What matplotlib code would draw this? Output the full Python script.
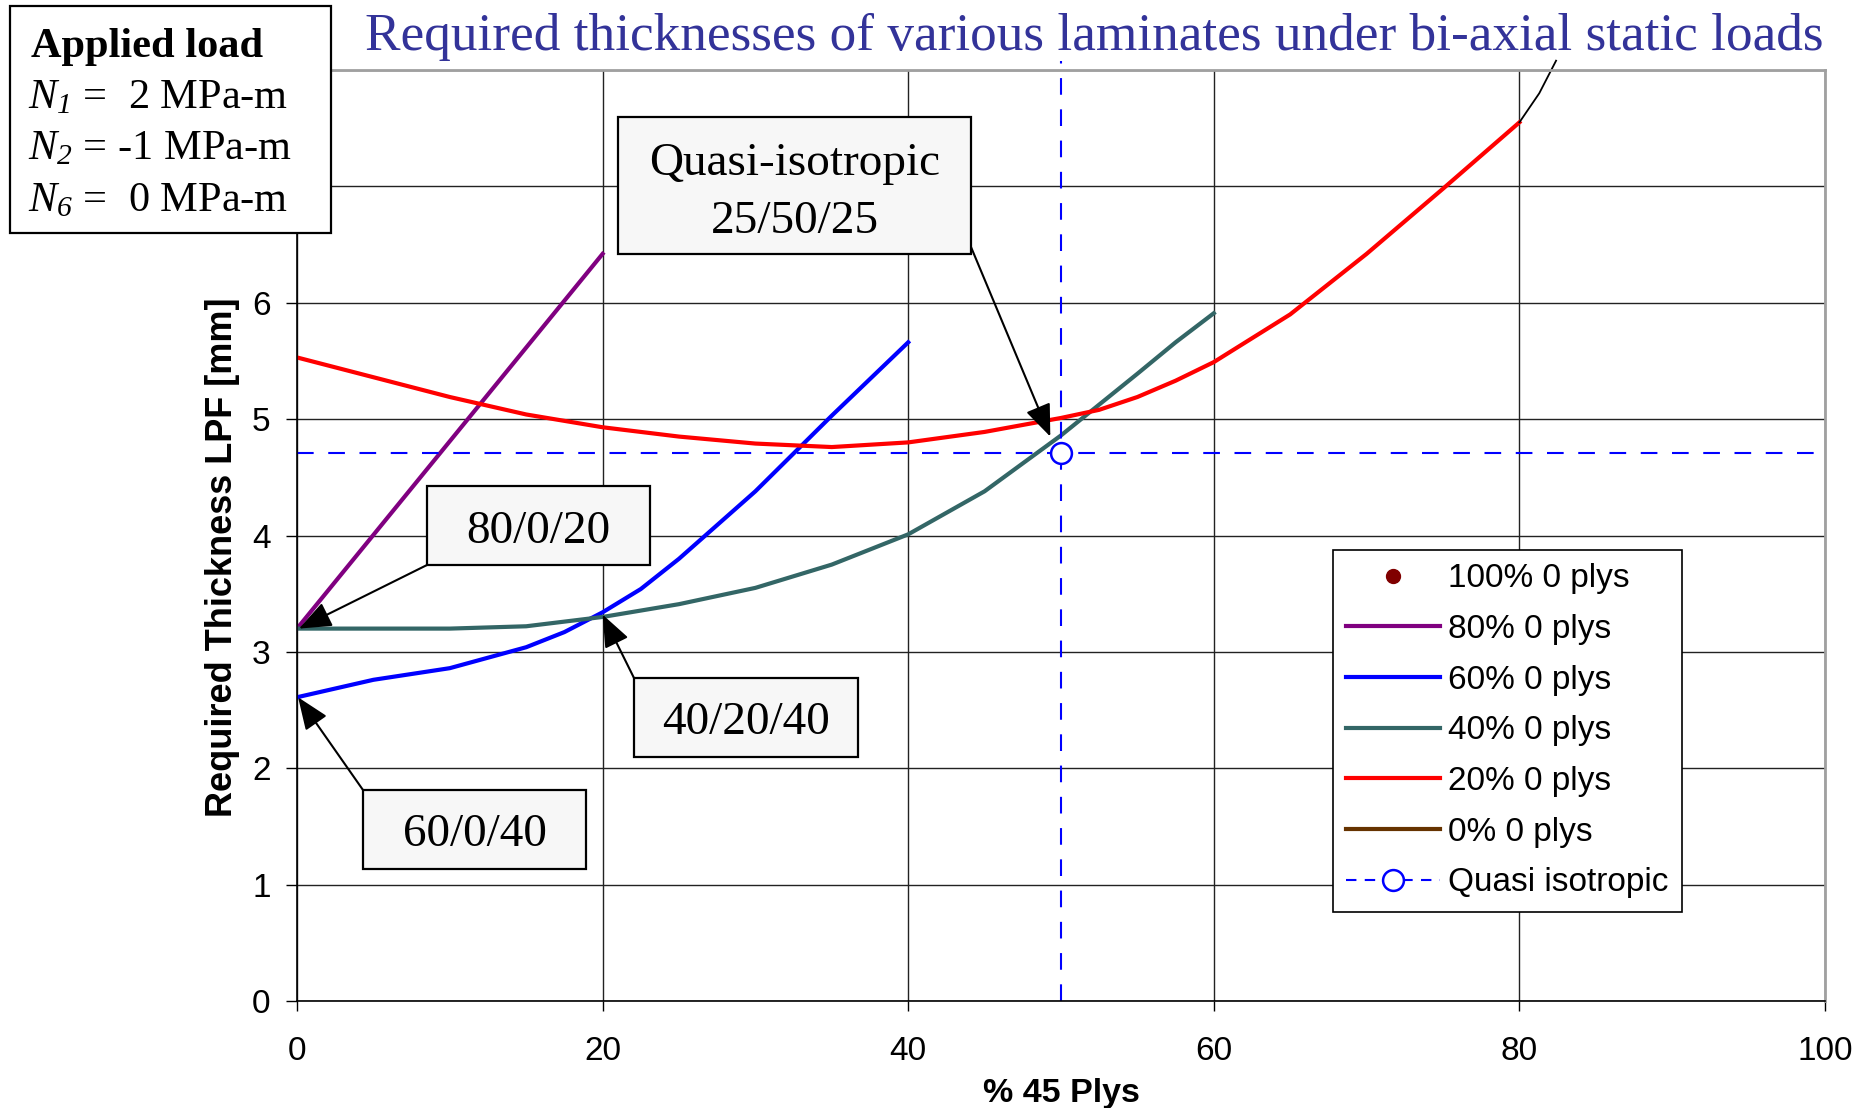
import matplotlib
matplotlib.use("Agg")
import matplotlib.pyplot as plt
from matplotlib.patches import Rectangle
from matplotlib.lines import Line2D

# data
x_80 = [0, 20]
t_80 = [3.20, 6.42]

x_60 = [0, 5, 10, 15, 17.5, 20, 22.5, 25, 30, 35, 40]
t_60 = [2.61, 2.76, 2.86, 3.04, 3.17, 3.34, 3.54, 3.80, 4.38, 5.03, 5.66]

x_40 = [0, 5, 10, 15, 20, 25, 30, 35, 40, 45, 50, 55, 57.5, 60]
t_40 = [3.20, 3.20, 3.20, 3.22, 3.30, 3.41, 3.55, 3.75, 4.01, 4.38, 4.86, 5.39, 5.66, 5.91]

x_20 = [0, 5, 10, 15, 20, 25, 30, 35, 40, 45, 50, 52.5, 55, 57.5, 60, 65, 70, 75, 80]
t_20 = [5.53, 5.36, 5.19, 5.04, 4.93, 4.85, 4.79, 4.76, 4.80, 4.89, 5.01, 5.08, 5.19, 5.33, 5.49, 5.90, 6.42, 6.98, 7.55]

x_tail = [80, 81.3, 82.4]
t_tail = [7.55, 7.80, 8.08]

quasi_x = 50
quasi_t = 4.71

series_labels = ["100% 0 plys", "80% 0 plys", "60% 0 plys", "40% 0 plys",
                 "20% 0 plys", "0% 0 plys", "Quasi isotropic"]

y_ticks = list(range(0, 9))
y_ticklabels = ['0', '1', '2', '3', '4', '5', '6', '', '']  # 7 and 8 sit under the load box

load_lines = [r"$N_1$ =  2 MPa-m",
              r"$N_2$ = -1 MPa-m",
              r"$N_6$ =  0 MPa-m"]

# callouts: text, arrow target (data), box (left, top, right, bottom px), arrow start px
callouts = [
    ("Quasi-isotropic\n25/50/25", (49.3, 4.85), (618, 117, 971, 254), (971, 247)),
    ("80/0/20", (0.13, 3.20), (427, 486, 650, 565), (427, 565)),
    ("40/20/40", (20.0, 3.32), (634, 678, 858, 757), (634, 678)),
    ("60/0/40", (0.07, 2.61), (363, 790, 586, 869), (363, 790)),
]

W, H = 1869, 1108

plt.rcParams['font.family'] = ['Liberation Sans', 'DejaVu Sans']
plt.rcParams['mathtext.fontset'] = 'custom'
plt.rcParams['mathtext.rm'] = 'Liberation Serif:italic'
plt.rcParams['mathtext.it'] = 'Liberation Serif:italic'

fig = plt.figure(figsize=(W / 100, H / 100), dpi=100)
ax = fig.add_axes([297 / W, 1 - 1001 / H, (1825 - 297) / W, (1001 - 70) / H])


def fx(px):
    return px / W


def fy(py):
    return 1 - py / H


lw = 3.0
ax.plot([], [], 'o', color='#800000', ms=10, label=series_labels[0])
ax.plot(x_80, t_80, color='#800080', lw=lw, label=series_labels[1])
ax.plot(x_60, t_60, color='#0000ff', lw=lw, label=series_labels[2])
ax.plot(x_40, t_40, color='#336666', lw=lw, label=series_labels[3])
ax.plot(x_20, t_20, color='#ff0000', lw=lw, label=series_labels[4])
ax.plot([], [], color='#663300', lw=lw, label=series_labels[5])
ax.plot(x_tail, t_tail, color='black', lw=1.3, clip_on=False)

ax.axhline(quasi_t, color='#0000ff', lw=1.5, dashes=(8, 7))
ax.plot([quasi_x, quasi_x], [0, 8.08], color='#0000ff', lw=1.5, dashes=(8, 7), clip_on=False)
ax.plot([quasi_x], [quasi_t], 'o', mfc='white', mec='#0000ff', mew=1.8, ms=15, zorder=4)
quasi_handle = Line2D([], [], color='#0000ff', lw=1.5, dashes=(5, 4), marker='o',
                      mfc='white', mec='#0000ff', mew=1.8, ms=15)

ax.set_xlim(0, 100)
ax.set_ylim(0, 8)
ax.set_xticks(range(0, 101, 20))
ax.set_yticks(y_ticks)
ax.set_yticklabels(y_ticklabels)
ax.grid(True, color='#222222', lw=1.0)
ax.set_axisbelow(True)
ax.tick_params(axis='x', labelsize=24, length=7, width=1, pad=18)
ax.tick_params(axis='y', labelsize=24, length=8, width=1, pad=11)
for s in ['top', 'right']:
    ax.spines[s].set_color('#a0a0a0')
    ax.spines[s].set_linewidth(2)
for s in ['bottom', 'left']:
    ax.spines[s].set_color('black')
    ax.spines[s].set_linewidth(1.2)

ax.set_xlabel('% 45 Plys', fontsize=24.5, fontweight='bold')
ax.xaxis.set_label_coords(0.5, (1001 - 1078) / 931)
ax.set_ylabel('Required Thickness LPF [mm]', fontsize=26, fontweight='bold')
ax.yaxis.set_label_coords((240 - 297) / 1528, (1001 - 557) / 931)

handles, labels = ax.get_legend_handles_labels()
handles.append(quasi_handle)
labels.append(series_labels[6])
leg = ax.legend(handles, labels, loc='upper left', bbox_to_anchor=(fx(1333), fy(550)),
                bbox_transform=fig.transFigure, borderaxespad=0, fontsize=24,
                fancybox=False, framealpha=1, edgecolor='black', handlelength=2.8,
                handletextpad=0.25, labelspacing=0.59, borderpad=0.4, numpoints=1)
leg.get_frame().set_linewidth(1.2)
leg.set_zorder(10)

# title
fig.text(fx(1094), fy(50), 'Required thicknesses of various laminates under bi-axial static loads',
         fontsize=38.3, color='#333399', family='Liberation Serif', ha='center', va='baseline')

# applied load box
fig.add_artist(Rectangle((fx(10), fy(233)), fx(321), 227 / H, transform=fig.transFigure,
                         facecolor='white', edgecolor='black', lw=1.6, zorder=5))
fig.text(fx(31), fy(57), 'Applied load', fontsize=30.5, fontweight='bold',
         family='Liberation Serif', va='baseline', zorder=6)
for i, line in enumerate(load_lines):
    fig.text(fx(28), fy(108 + i * 51.5), line, fontsize=30.5, family='Liberation Serif',
             va='baseline', zorder=6)

# callout boxes with arrows
for text, tip, box, start in callouts:
    l, t, r, b = box
    ax.annotate('', xy=tip, xycoords='data', xytext=(start[0], H - start[1]),
                textcoords='figure pixels',
                arrowprops=dict(arrowstyle='-|>,head_length=1.0,head_width=0.4',
                                mutation_scale=20, color='black', lw=1.5,
                                shrinkA=0, shrinkB=0), zorder=6)
    fig.add_artist(Rectangle((fx(l), fy(b)), fx(r - l), (b - t) / H, transform=fig.transFigure,
                             facecolor='#f7f7f7', edgecolor='black', lw=1.6, zorder=5))
    rows = text.split('\n')
    if len(rows) == 2:
        base = [175, 233]
    else:
        base = [(t + b) / 2 + 17]
    for row, yb in zip(rows, base):
        fig.text(fx((l + r) / 2), fy(yb), row, fontsize=34, family='Liberation Serif',
                 ha='center', va='baseline', zorder=6)

fig.savefig('out.png', dpi=100)
